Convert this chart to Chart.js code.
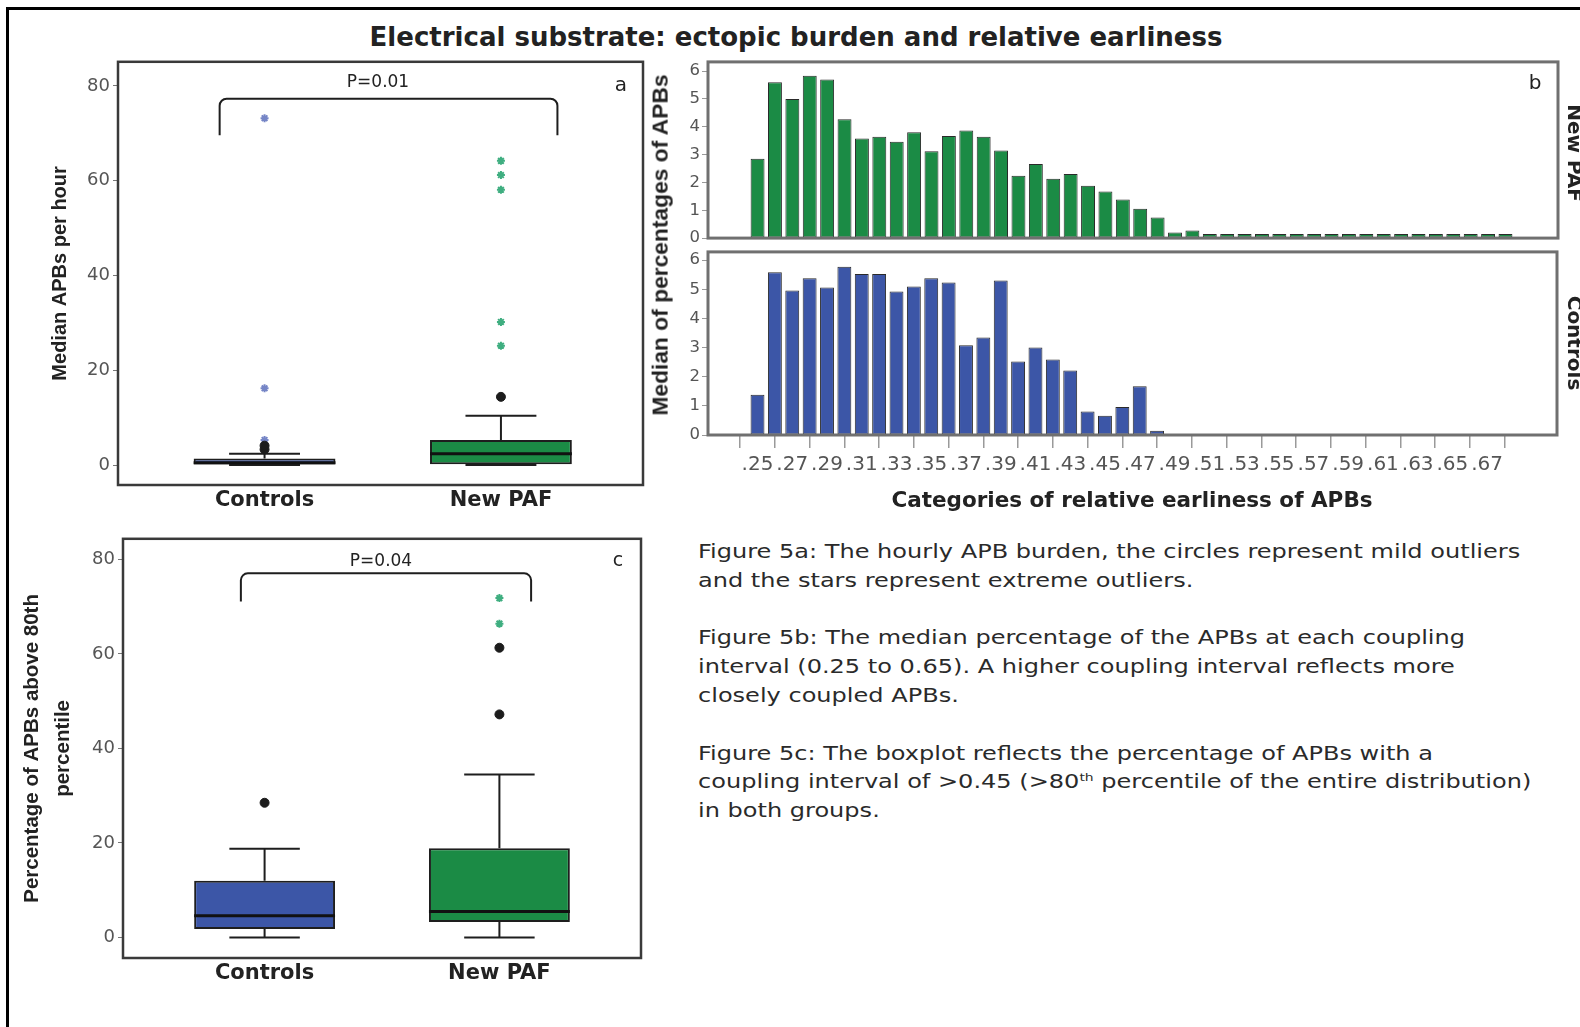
<!DOCTYPE html>
<html>
<head>
<meta charset="utf-8">
<title>Electrical substrate: ectopic burden and relative earliness</title>
<script src="https://cdn.jsdelivr.net/npm/chart.js@4.4.1/dist/chart.umd.min.js"></script>
<style>
  html, body { margin: 0; padding: 0; background: #fff; }
  body { position: relative; width: 1580px; height: 1027px; overflow: hidden;
         font-family: 'DejaVu Sans', sans-serif; color: #222; }
  .page-border { position: absolute; left: 6px; top: 7px; width: 1700px; height: 1100px;
                 border-left: 3px solid #000; border-top: 3px solid #000; }
  canvas { position: absolute; }
  .txt { position: absolute; white-space: nowrap; line-height: 1; transform: translate(-50%, -50%); }
  .bold { font-weight: bold; }
  .rot-l { transform: translate(-50%, -50%) rotate(-90deg); }
  .rot-r { transform: translate(-50%, -50%) rotate(90deg); }
  #caption { position: absolute; left: 698px; top: 537px; font-size: 19px; line-height: 28.8px;
             color: #2a2a2a; white-space: nowrap; transform: scaleX(1.265); transform-origin: 0 0; }
  #caption sup { font-size: 11px; line-height: 0; }
</style>
</head>
<body>
<div class="page-border"></div>

<div class="txt bold" style="left:796px;top:37px;font-size:26px;">Electrical substrate: ectopic burden and relative earliness</div>

<canvas id="chart-a" width="615" height="490" style="left:43px;top:48px"></canvas>
<canvas id="chart-b-paf" width="980" height="200" style="left:600px;top:50px"></canvas>
<canvas id="chart-b-ctrl" width="980" height="250" style="left:600px;top:240px"></canvas>
<canvas id="chart-c" width="643" height="490" style="left:13px;top:525px"></canvas>

<!-- panel annotations -->
<div class="txt" style="left:378px;top:81px;font-size:17px;">P=0.01</div>
<div class="txt" style="left:381px;top:560px;font-size:17px;">P=0.04</div>
<div class="txt" style="left:621px;top:84px;font-size:20px;">a</div>
<div class="txt" style="left:1535px;top:82px;font-size:20px;">b</div>
<div class="txt" style="left:618px;top:559px;font-size:19px;">c</div>

<div class="txt rot-l" style="left:660px;top:245px;font-family:'Liberation Sans',sans-serif;font-weight:bold;font-size:22.8px;">Median of percentages of APBs</div>
<div class="txt bold" style="left:1132px;top:500px;font-size:21.5px;">Categories of relative earliness of APBs</div>
<div class="txt bold rot-r" style="left:1575px;top:153px;font-size:20px;">New PAF</div>
<div class="txt bold rot-r" style="left:1575px;top:343px;font-size:20px;">Controls</div>

<div id="caption">Figure 5a: The hourly APB burden, the circles represent mild outliers<br>and the stars represent extreme outliers.<br><br>Figure 5b: The median percentage of the APBs at each coupling<br>interval (0.25 to 0.65). A higher coupling interval reflects more<br>closely coupled APBs.<br><br>Figure 5c: The boxplot reflects the percentage of APBs with a<br>coupling interval of &gt;0.45 (&gt;80<sup>th</sup> percentile of the entire distribution)<br>in both groups.</div>

<script>
// ─── Data ────────────────────────────────────────────────────────────────────

const groups = ['Controls', 'New PAF'];
const boxTicks = [0, 20, 40, 60, 80];

// Figure 5a — median APBs per hour
const burdenLow = [0, 0];
const burdenQ1 = [0, 0.2];
const burdenMedian = [0.5, 2.4];
const burdenQ3 = [1.4, 5.3];
const burdenHigh = [2.4, 10.4];
const burdenMild = [[3.3, 4.1], [14.4]];
const burdenExtreme = [[5.3, 16.2, 73.2], [25.2, 30.2, 58.1, 61.2, 64.2]];

// Figure 5c — percentage of APBs above 80th percentile
const lateLow = [0, 0];
const lateQ1 = [1.8, 3.3];
const lateMedian = [4.6, 5.5];
const lateQ3 = [12.0, 18.9];
const lateHigh = [18.8, 34.5];
const lateMild = [[28.5], [47.2, 61.3]];
const lateExtreme = [[], [66.4, 71.8]];

// Figure 5b — median % of APBs per relative earliness category
const earliness = [0.25, 0.26, 0.27, 0.28, 0.29, 0.30, 0.31, 0.32, 0.33, 0.34, 0.35,
  0.36, 0.37, 0.38, 0.39, 0.40, 0.41, 0.42, 0.43, 0.44, 0.45, 0.46, 0.47, 0.48, 0.49,
  0.50, 0.51, 0.52, 0.53, 0.54, 0.55, 0.56, 0.57, 0.58, 0.59, 0.60, 0.61, 0.62, 0.63,
  0.64, 0.65, 0.66, 0.67, 0.68];
const earlinessTicks = [0.25, 0.27, 0.29, 0.31, 0.33, 0.35, 0.37, 0.39, 0.41, 0.43, 0.45,
  0.47, 0.49, 0.51, 0.53, 0.55, 0.57, 0.59, 0.61, 0.63, 0.65, 0.67];
const newPafMedianPct = [2.85, 5.6, 5.0, 5.83, 5.7, 4.27, 3.58, 3.64, 3.46, 3.8, 3.12,
  3.67, 3.87, 3.64, 3.15, 2.24, 2.66, 2.13, 2.3, 1.88, 1.67, 1.39, 1.05, 0.74, 0.2,
  0.27, 0, 0, 0, 0, 0, 0, 0, 0, 0, 0, 0, 0, 0, 0, 0, 0, 0, 0];
const controlsMedianPct = [1.38, 5.58, 4.96, 5.38, 5.06, 5.77, 5.52, 5.52, 4.92, 5.09, 5.38,
  5.23, 3.08, 3.34, 5.3, 2.52, 3.0, 2.59, 2.21, 0.81, 0.66, 0.96, 1.67, 0.15, null,
  null, null, null, null, null, null, null, null, null, null, null, null, null, null,
  null, null, null, null, null];
const histTicks = [0, 1, 2, 3, 4, 5, 6];

// ─── Styles ──────────────────────────────────────────────────────────────────

const BLUE = '#3c56a7';
const GREEN = '#1b8b45';
const GROUP_COLORS = [BLUE, GREEN];
const STAR_COLORS = ['#7585c6', '#3fae80'];
const INK = '#1e1e1e';
const TICK_FONT = { family: 'DejaVu Sans', size: 18 };
const TITLE_FAMILY = 'Liberation Sans';

// ─── Plugins ─────────────────────────────────────────────────────────────────

function framePlugin(color, width) {
  return {
    id: 'frame',
    afterDatasetsDraw(chart) {
      const { ctx, chartArea: a } = chart;
      ctx.save();
      ctx.strokeStyle = color;
      ctx.lineWidth = width;
      ctx.strokeRect(a.left, a.top, a.right - a.left, a.bottom - a.top);
      ctx.restore();
    },
  };
}

// whiskers + median lines, box itself is the floating bar dataset
function boxplotPlugin(s) {
  return {
    id: 'boxplot',
    beforeDatasetsDraw(chart) {
      const { ctx } = chart;
      const x = chart.scales.x, y = chart.scales.y;
      const half = (x.getPixelForValue(1) - x.getPixelForValue(0)) * 0.15;
      ctx.save();
      ctx.strokeStyle = INK;
      ctx.lineWidth = 2;
      s.low.forEach((lo, i) => {
        const px = x.getPixelForValue(i);
        const yLo = y.getPixelForValue(lo), yHi = y.getPixelForValue(s.high[i]);
        ctx.beginPath();
        ctx.moveTo(px, yLo); ctx.lineTo(px, y.getPixelForValue(s.q1[i]));
        ctx.moveTo(px, y.getPixelForValue(s.q3[i])); ctx.lineTo(px, yHi);
        ctx.moveTo(px - half, yLo); ctx.lineTo(px + half, yLo);
        ctx.moveTo(px - half, yHi); ctx.lineTo(px + half, yHi);
        ctx.stroke();
      });
      ctx.restore();
    },
    afterDatasetDraw(chart, args) {
      if (args.index !== 0) return;
      const { ctx } = chart;
      const y = chart.scales.y;
      ctx.save();
      ctx.strokeStyle = '#111';
      ctx.lineWidth = 3;
      args.meta.data.forEach((bar, i) => {
        const py = y.getPixelForValue(s.median[i]);
        ctx.beginPath();
        ctx.moveTo(bar.x - bar.width / 2, py);
        ctx.lineTo(bar.x + bar.width / 2, py);
        ctx.stroke();
      });
      ctx.restore();
    },
  };
}

function bracketPlugin(br) {
  return {
    id: 'bracket',
    afterDatasetsDraw(chart) {
      const { ctx } = chart;
      const x = chart.scales.x, y = chart.scales.y;
      const x0 = x.getPixelForValue(br.from), x1 = x.getPixelForValue(br.to);
      const yt = y.getPixelForValue(br.top), yb = y.getPixelForValue(br.bottom);
      const r = 7;
      ctx.save();
      ctx.strokeStyle = INK;
      ctx.lineWidth = 2;
      ctx.beginPath();
      ctx.moveTo(x0, yb);
      ctx.lineTo(x0, yt + r);
      ctx.arcTo(x0, yt, x0 + r, yt, r);
      ctx.lineTo(x1 - r, yt);
      ctx.arcTo(x1, yt, x1, yt + r, r);
      ctx.lineTo(x1, yb);
      ctx.stroke();
      ctx.restore();
    },
  };
}

// ─── Box plots (5a, 5c) ──────────────────────────────────────────────────────

function renderBoxChart(id, s, cfg) {
  const boxes = groups.map((g, i) => ({ x: i, y: [s.q1[i], s.q3[i]] }));
  const mild = groups.flatMap((g, i) => s.mild[i].map(v => ({ x: i, y: v })));
  const extreme = groups.flatMap((g, i) => s.extreme[i].map(v => ({ x: i, y: v })));

  return new Chart(document.getElementById(id), {
    type: 'bar',
    data: {
      datasets: [
        {
          data: boxes,
          backgroundColor: GROUP_COLORS,
          borderColor: INK,
          borderWidth: 2,
          borderSkipped: false,
          barPercentage: 0.6,
          categoryPercentage: 1,
          order: 3,
        },
        {
          type: 'scatter',
          data: mild,
          pointStyle: 'circle',
          radius: 4.5,
          backgroundColor: '#1c1c1c',
          borderColor: '#1c1c1c',
          order: 1,
        },
        {
          type: 'scatter',
          data: extreme,
          pointStyle: 'star',
          radius: 4,
          borderWidth: 2,
          borderColor: ctx => STAR_COLORS[ctx.raw ? ctx.raw.x : 0],
          order: 1,
        },
      ],
    },
    options: {
      responsive: false,
      animation: false,
      layout: { padding: { top: cfg.padTop, right: 15, left: 0, bottom: 0 } },
      plugins: { legend: { display: false }, tooltip: { enabled: false } },
      scales: {
        x: {
          type: 'linear',
          min: cfg.xMin,
          max: cfg.xMax,
          offset: false,
          grid: { display: false, drawTicks: false },
          border: { display: false },
          afterBuildTicks: sc => { sc.ticks = groups.map((g, i) => ({ value: i })); },
          afterFit: sc => { sc.height = cfg.xHeight; },
          ticks: {
            callback: v => groups[v],
            font: { family: 'DejaVu Sans', size: 21, weight: 'bold' },
            color: '#222',
            padding: 3,
            autoSkip: false,
            maxRotation: 0,
          },
        },
        y: {
          min: cfg.yMin,
          max: cfg.yMax,
          afterBuildTicks: sc => { sc.ticks = boxTicks.map(v => ({ value: v })); },
          afterFit: sc => { sc.width = cfg.yWidth; },
          grid: { drawOnChartArea: false, tickLength: 5, color: '#777' },
          border: { display: false },
          ticks: { font: TICK_FONT, color: '#555', padding: 3 },
          title: {
            display: true,
            text: cfg.title,
            color: '#222',
            padding: { top: 4, bottom: 4 },
            font: { family: TITLE_FAMILY, size: cfg.titleSize, weight: 'bold', lineHeight: cfg.titleLH },
          },
        },
      },
    },
    plugins: [boxplotPlugin(s), bracketPlugin(cfg.bracket), framePlugin('#3a3a3a', 2.5)],
  });
}

// ─── Histograms (5b) ─────────────────────────────────────────────────────────

function renderHistogram(id, values, color, cfg) {
  return new Chart(document.getElementById(id), {
    type: 'bar',
    data: {
      datasets: [{
        data: earliness.map((x, i) => ({ x, y: values[i] })),
        backgroundColor: color,
        borderColor: '#2a2a2a',
        borderWidth: 1,
        borderSkipped: false,
        barPercentage: 0.8,
        categoryPercentage: 1,
        minBarLength: cfg.minBar,
        clip: 0,
      }],
    },
    options: {
      responsive: false,
      animation: false,
      layout: { padding: cfg.padding },
      plugins: { legend: { display: false }, tooltip: { enabled: false } },
      scales: {
        x: {
          type: 'linear',
          display: cfg.showX,
          min: 0.2215,
          max: 0.7102,
          offset: false,
          afterBuildTicks: sc => { sc.ticks = earlinessTicks.map(v => ({ value: v })); },
          afterFit: sc => { sc.height = cfg.showX ? 55 : 0; },
          grid: { drawOnChartArea: false, tickLength: 13, color: '#9a9a9a', lineWidth: 1.5 },
          border: { display: false },
          ticks: {
            callback: v => v.toFixed(2).slice(1),
            font: { family: 'DejaVu Sans', size: 20 },
            color: '#555',
            padding: 5,
            autoSkip: false,
            maxRotation: 0,
            minRotation: 0,
          },
        },
        y: {
          min: 0,
          max: cfg.yMax,
          afterBuildTicks: sc => { sc.ticks = histTicks.map(v => ({ value: v })); },
          afterFit: sc => { sc.width = 108; },
          grid: { drawOnChartArea: false, tickLength: 6, color: '#999' },
          border: { display: false },
          ticks: { font: { family: 'DejaVu Sans', size: 16.5 }, color: '#555', padding: 2 },
        },
      },
    },
    plugins: [framePlugin('#707070', 3)],
  });
}

// ─── Boot ────────────────────────────────────────────────────────────────────

renderBoxChart('chart-a', {
  low: burdenLow, q1: burdenQ1, median: burdenMedian, q3: burdenQ3, high: burdenHigh,
  mild: burdenMild, extreme: burdenExtreme,
}, {
  title: 'Median APBs per hour',
  titleSize: 20,
  titleLH: 1.3,
  xMin: -0.62, xMax: 1.601,
  yMin: -4.2, yMax: 85.1,
  padTop: 12, yWidth: 75, xHeight: 53,
  bracket: { from: -0.19, to: 1.239, top: 77.3, bottom: 69.6 },
});

renderBoxChart('chart-c', {
  low: lateLow, q1: lateQ1, median: lateMedian, q3: lateQ3, high: lateHigh,
  mild: lateMild, extreme: lateExtreme,
}, {
  title: ['Percentage of APBs above 80th', 'percentile'],
  titleSize: 20.5,
  titleLH: 1.5,
  xMin: -0.603, xMax: 1.603,
  yMin: -4.34, yMax: 84.35,
  padTop: 13, yWidth: 110, xHeight: 57,
  bracket: { from: -0.101, to: 1.135, top: 77.05, bottom: 71.1 },
});

renderHistogram('chart-b-paf', newPafMedianPct, GREEN, {
  showX: false, yMax: 6.33, minBar: 4,
  padding: { top: 10, right: 22, left: 0, bottom: 4 },
});

renderHistogram('chart-b-ctrl', controlsMedianPct, BLUE, {
  showX: true, yMax: 6.28, minBar: 0,
  padding: { top: 10, right: 23, left: 0, bottom: 0 },
});
</script>
</body>
</html>
